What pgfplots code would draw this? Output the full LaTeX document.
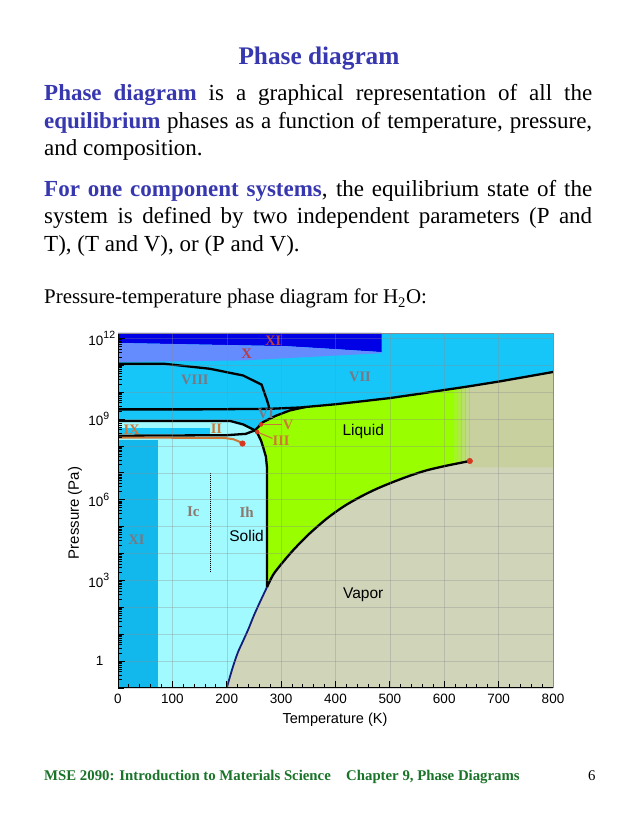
\documentclass[border=0pt]{standalone}
\usepackage{pgfplots}
\pgfplotsset{compat=1.18}
\usepackage{fontspec}
\setmainfont{Liberation Serif}
\newfontfamily\arial{Liberation Sans}

\definecolor{icecyan}{RGB}{22,198,248}
\definecolor{xicyan}{RGB}{18,184,236}
\definecolor{pale}{RGB}{160,250,255}
\definecolor{darkb}{RGB}{0,0,230}
\definecolor{medb}{RGB}{100,140,255}
\definecolor{liq}{RGB}{153,255,0}
\definecolor{vap}{RGB}{208,213,186}
\definecolor{scf}{RGB}{200,208,160}
\definecolor{orng}{RGB}{205,120,55}
\definecolor{reddot}{RGB}{215,55,30}
\definecolor{romgrey}{RGB}{120,120,132}
\definecolor{rombrown}{RGB}{140,120,110}
\definecolor{romred}{RGB}{185,60,65}
\definecolor{slblue}{RGB}{55,55,175}
\definecolor{fgreen}{RGB}{25,115,40}
\definecolor{navy}{RGB}{20,30,120}

\newcommand\bodyfont{\fontsize{23}{27}\selectfont}
\newcommand\hl[1]{\textcolor{slblue}{\textbf{#1}}}
\newcommand\sups[1]{\rlap{\raisebox{0.45em}{\fontsize{10.5}{10}\selectfont #1}}}

% log sub-ticks 2..9 in every decade (y is log10 of pressure)
\def\subticks{}
\foreach \d in {-1,0,...,11}{%
  \foreach \k in {0.301,0.477,0.602,0.699,0.778,0.845,0.903,0.954}{%
    \pgfmathsetmacro\v{\d+\k}%
    \xdef\subticks{\subticks\v,}%
  }}

\begin{document}
\begin{tikzpicture}
\useasboundingbox (0pt,0pt) rectangle (638pt,826pt);
\fill[white] (0pt,0pt) rectangle (638pt,826pt);

% slide text
\node[anchor=base, inner sep=0] at (319pt,761pt)
  {\fontsize{25.3}{28}\selectfont\hl{Phase diagram}};
\node[anchor=base west, inner sep=0] at (44pt,725pt)
  {\bodyfont\makebox[548pt][s]{\hl{Phase diagram} is a graphical representation of all the}};
\node[anchor=base west, inner sep=0] at (44pt,697pt)
  {\bodyfont\makebox[548pt][s]{\hl{equilibrium} phases as a function of temperature, pressure,}};
\node[anchor=base west, inner sep=0] at (44pt,670pt)
  {\bodyfont and composition.};
\node[anchor=base west, inner sep=0] at (44pt,629pt)
  {\bodyfont\makebox[548pt][s]{\hl{For one component systems}, the equilibrium state of the}};
\node[anchor=base west, inner sep=0] at (44pt,602pt)
  {\bodyfont\makebox[548pt][s]{system is defined by two independent parameters (P and}};
\node[anchor=base west, inner sep=0] at (44pt,574pt)
  {\bodyfont T), (T and V), or (P and V).};
\node[anchor=base west, inner sep=0] at (44pt,522pt)
  {\fontsize{20.9}{24}\selectfont Pressure-temperature phase diagram for H\textsubscript{2}O:};

% footer
\node[anchor=base west, inner sep=0, text=fgreen] at (44pt,45pt)
  {\fontsize{14.8}{16}\selectfont\bfseries MSE 2090: Introduction to Materials Science};
\node[anchor=base west, inner sep=0, text=fgreen] at (346pt,45pt)
  {\fontsize{14.8}{16}\selectfont\bfseries Chapter 9, Phase Diagrams};
\node[anchor=base west, inner sep=0] at (588pt,45pt)
  {\fontsize{14.8}{16}\selectfont 6};

\begin{axis}[
  at={(118pt,138pt)}, anchor=south west,
  scale only axis, width=435pt, height=355pt,
  xmin=0, xmax=800, ymin=-1, ymax=12.2,
  axis lines=left, axis line style={-, black, line width=1pt},
  axis on top,
  xtick={0,100,...,800}, minor x tick num=4,
  ytick={0,3,6,9,12},
  yticklabels={1,10\sups{3},10\sups{6},10\sups{9},10\sups{12}},
  extra y ticks={-1,1,2,4,5,7,8,10,11},
  extra y tick labels={},
  extra y tick style={ymajorgrids=true, major tick length=5.5pt},
  minor ytick/.expanded={\subticks 12.301},
  tick align=inside, major tick length=7pt, minor tick length=3.5pt,
  every tick/.style={black, line width=0.9pt},
  xmajorgrids, ymajorgrids,
  grid style={black!45, line width=0.5pt, opacity=0.35},
  ticklabel style={font=\arial\fontsize{13.5}{14}\selectfont},
  xticklabel style={/pgf/number format/assume math mode=true, yshift=-3pt},
  yticklabel style={xshift=-11pt},
]
% background (ice VI / VII / VIII)
\addplot[fill=icecyan, draw=none] coordinates {(0,-1) (800,-1) (800,12.2) (0,12.2)} -- cycle;
% ice XI (high pressure) and X
\addplot[fill=darkb, draw=none] coordinates {(0,12.2) (485,12.2) (485,11.49) (400,11.60) (310,11.71) (0,11.83)} -- cycle;
\addplot[fill=medb, draw=none] coordinates {(0,11.83) (310,11.71) (400,11.60) (485,11.49) (485,11.45) (230,11.18) (0,11.12)} -- cycle;
% ice II + Ih + Ic
\addplot[fill=pale, draw=none] coordinates {(0,-1) (0,8.93) (206,8.93) (230,8.80) (252,8.58) (257,8.45) (263,8.20) (267,7.95) (272,7.60) (274,7.20) (274,2.75) (260,2.15) (250,1.70) (240,1.20) (230,0.75) (220,0.30) (210,-0.30) (200,-1)} -- cycle;
% ice XI (low temperature) and IX
\addplot[fill=xicyan, draw=none] coordinates {(0,-1) (73,-1) (73,8.21) (0,8.21)} -- cycle;
\addplot[fill=icecyan, draw=none] coordinates {(0,8.46) (169,8.46) (169,8.68) (0,8.68)} -- cycle;
% liquid
\addplot[fill=liq, draw=none] coordinates {(274,2.75) (274,7.20) (272,7.60) (267,7.95) (263,8.20) (257,8.45) (252,8.58) (266,8.88) (290,9.12) (316,9.32) (345,9.45) (400,9.55) (457,9.68) (500,9.78) (555,9.94) (580,10.02) (618,10.134) (618,2.75)} -- cycle;
% fade liquid -> supercritical
\addplot[fill=liq!78!scf, draw=none] coordinates {(618,7.0) (618,10.134) (625,10.155) (625,7.0)} -- cycle;
\addplot[fill=liq!56!scf, draw=none] coordinates {(625,7.0) (625,10.155) (632,10.176) (632,7.0)} -- cycle;
\addplot[fill=liq!34!scf, draw=none] coordinates {(632,7.0) (632,10.176) (639,10.197) (639,7.0)} -- cycle;
\addplot[fill=liq!14!scf, draw=none] coordinates {(639,7.0) (639,10.197) (646,10.219) (646,7.0)} -- cycle;
% supercritical fluid
\addplot[fill=scf, draw=none] coordinates {(646,7.0) (800,7.0) (800,10.75) (702,10.40) (646,10.219)} -- cycle;
% vapor
\addplot[fill=vap, draw=none] coordinates {(200,-1) (210,-0.30) (220,0.30) (230,0.75) (240,1.20) (250,1.70) (260,2.15) (274,2.75) (285,3.20) (300,3.60) (322,4.12) (350,4.70) (384,5.30) (415,5.75) (445,6.10) (475,6.40) (506,6.66) (535,6.88) (567,7.09) (605,7.27) (647,7.44) (647,7.20) (800,7.20) (800,-1)} -- cycle;

% phase boundaries
\addplot[black, line width=2.3pt] coordinates {(0,11.06) (83,11.06) (169,10.87) (230,10.62) (264,10.28) (268,10.05) (274,9.70) (277,9.50) (278,9.36)};
\addplot[black, line width=2.3pt] coordinates {(0,9.36) (150,9.36) (278,9.38) (335,9.43) (400,9.55) (457,9.68) (500,9.78) (555,9.94) (580,10.02) (640,10.20) (702,10.40) (800,10.75)};
\addplot[black, line width=2.3pt] coordinates {(0,8.93) (206,8.93) (230,8.80) (252,8.58)};
\addplot[black, line width=2.3pt] coordinates {(0,8.38) (200,8.40) (235,8.45) (252,8.58)};
\addplot[black, line width=2.3pt] coordinates {(252,8.58) (266,8.88) (290,9.12) (316,9.32) (345,9.45)};
\addplot[black, line width=2.3pt] coordinates {(252,8.58) (257,8.45) (263,8.20) (267,7.95) (272,7.60) (274,7.20) (274,6.50) (274,2.75)};
\addplot[black, line width=2.3pt, smooth] coordinates {(274,2.75) (285,3.20) (300,3.60) (322,4.12) (350,4.70) (384,5.30) (415,5.75) (445,6.10) (475,6.40) (506,6.66) (535,6.88) (567,7.09) (605,7.27) (647,7.44)};
\addplot[navy, line width=1.8pt, smooth] coordinates {(200,-1) (210,-0.30) (220,0.30) (230,0.75) (240,1.20) (250,1.70) (260,2.15) (274,2.75)};
% metastable line and pointers
\addplot[orng, line width=2pt] coordinates {(0,8.31) (195,8.30) (212,8.25) (222,8.17) (229,8.09)};
\addplot[orng, line width=1.1pt] coordinates {(263,8.80) (301,8.80)};
\addplot[orng, line width=1.1pt] coordinates {(256,8.52) (284,8.28)};
% Ic / Ih divider
\addplot[black, line width=1pt, densely dotted] coordinates {(170,3.30) (170,6.98)};
% critical and triple points
\addplot[only marks, mark=*, mark size=2.8pt, color=reddot] coordinates {(229,8.09) (647,7.44)};
\addplot[only marks, mark=*, mark size=2pt, color=reddot] coordinates {(263,8.80) (256,8.52)};

% region labels
\node[font=\fontsize{14.5}{14}\selectfont\bfseries, text=romgrey] at (axis cs:141.5,10.44) {VIII};
\node[font=\fontsize{14.5}{14}\selectfont\bfseries, text=romgrey] at (axis cs:445,10.56) {VII};
\node[font=\fontsize{14.5}{14}\selectfont\bfseries, text=romgrey] at (axis cs:272,9.20) {VI};
\node[font=\fontsize{14.5}{14}\selectfont\bfseries, text=romred] at (axis cs:236.5,11.43) {X};
\node[font=\fontsize{14.5}{14}\selectfont\bfseries, text=romred] at (axis cs:285.5,11.93) {XI};
\node[font=\fontsize{14.5}{14}\selectfont\bfseries, text=orng] at (axis cs:25,8.60) {IX};
\node[font=\fontsize{14.5}{14}\selectfont\bfseries, text=orng] at (axis cs:181,8.64) {II};
\node[font=\fontsize{14.5}{14}\selectfont\bfseries, text=orng] at (axis cs:313,8.80) {V};
\node[font=\fontsize{14.5}{14}\selectfont\bfseries, text=orng] at (axis cs:300,8.18) {III};
\node[font=\fontsize{15}{14}\selectfont\bfseries, text=rombrown] at (axis cs:138.5,5.54) {Ic};
\node[font=\fontsize{15}{14}\selectfont\bfseries, text=rombrown] at (axis cs:236.5,5.54) {Ih};
\node[font=\fontsize{14.5}{14}\selectfont\bfseries, text=romgrey] at (axis cs:34,4.52) {XI};
\node[font=\arial\fontsize{15.5}{15}\selectfont] at (axis cs:451,8.52) {Liquid};
\node[font=\arial\fontsize{15.5}{15}\selectfont] at (axis cs:236.5,4.64) {Solid};
\node[font=\arial\fontsize{15.5}{15}\selectfont] at (axis cs:451,2.45) {Vapor};
\end{axis}

% thin frame on top and right
\draw[black!45, line width=0.5pt] (118pt,493pt) -- (553pt,493pt) -- (553pt,138pt);

% axis titles
\node[font=\arial\fontsize{14.5}{16}\selectfont] at (335pt,106pt) {Temperature (K)};
\node[font=\arial\fontsize{15}{16}\selectfont, rotate=90] at (75pt,313pt) {Pressure (Pa)};
\end{tikzpicture}
\end{document}
